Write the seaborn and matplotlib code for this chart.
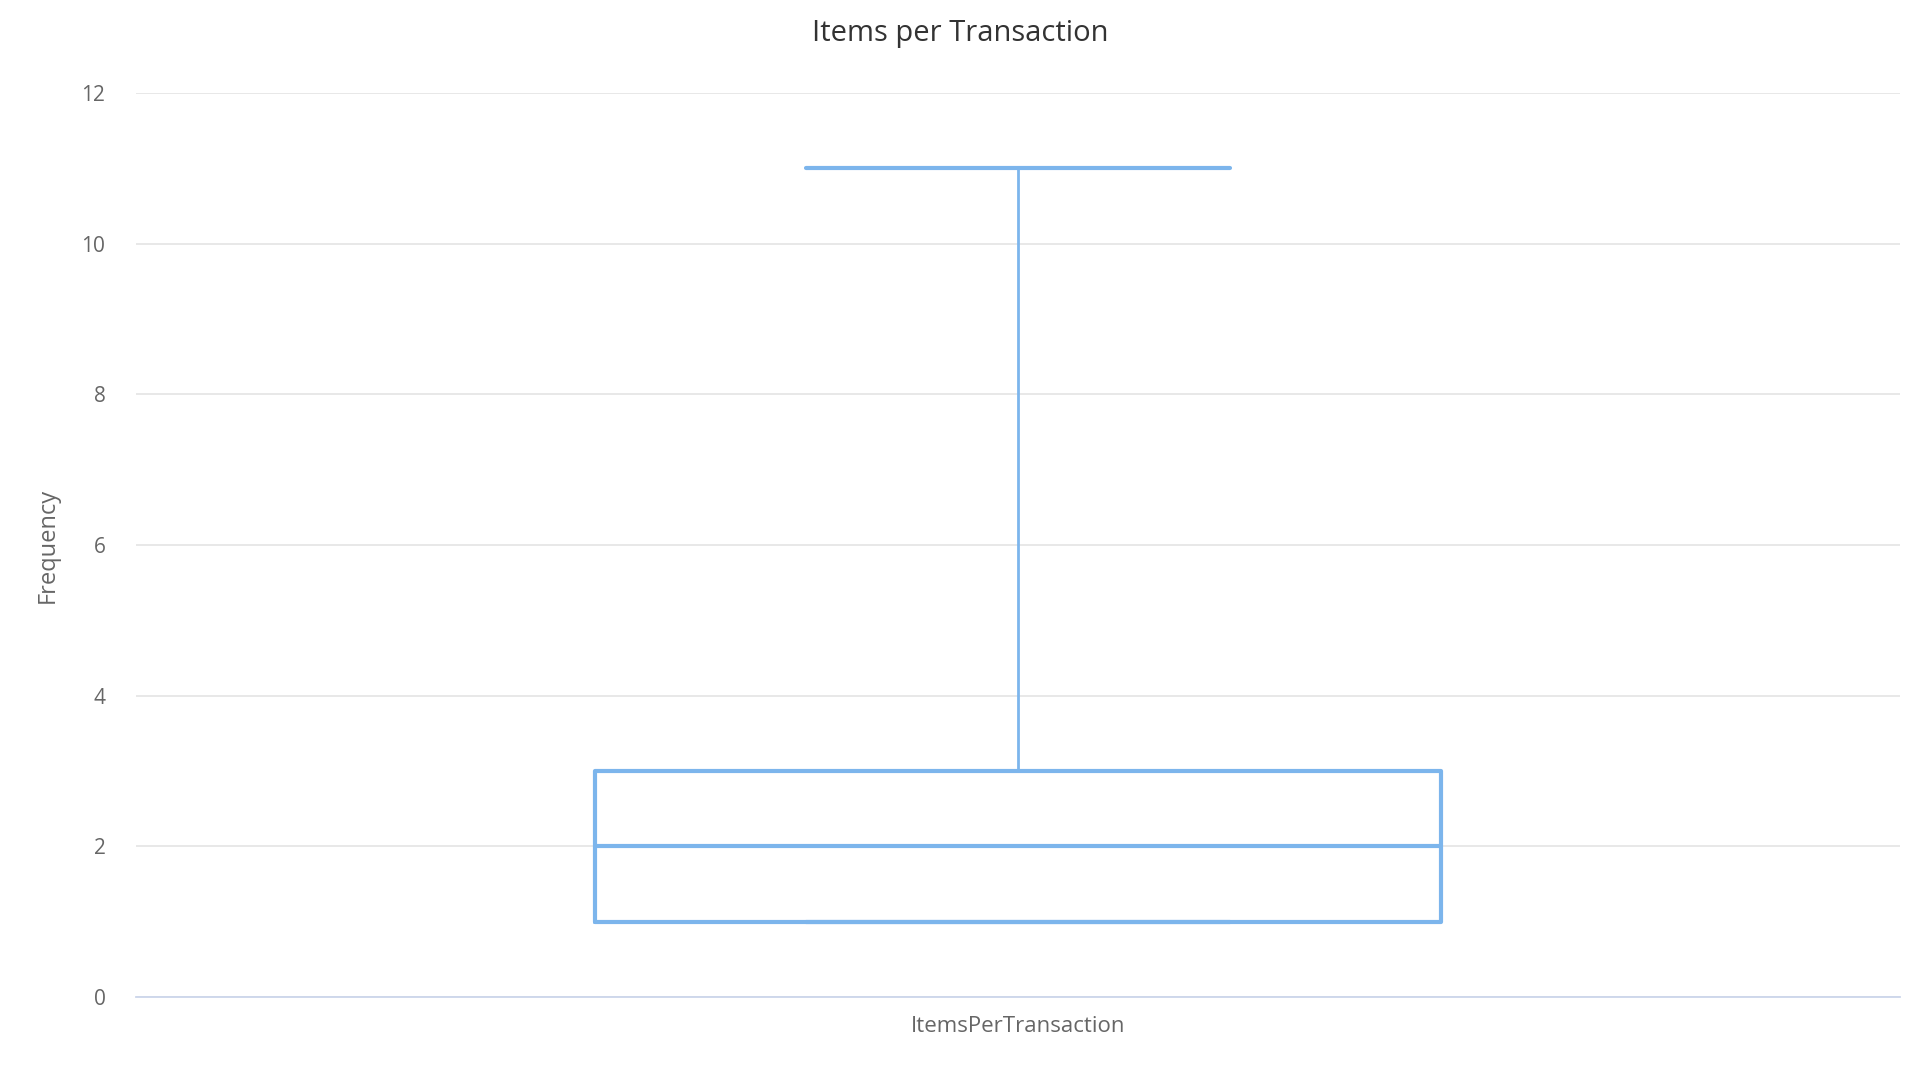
import seaborn as sns
import numpy as np
from matplotlib import pyplot as plt
import pandas as pd

# five-number summary: min, q1, median, q3, max
category = 'ItemsPerTransaction'
summary = [1, 1, 2, 3, 11]
y_ticks = [0, 2, 4, 6, 8, 10, 12]

box_color = '#7cb5ec'
grid_color = '#e6e6e6'
text_color = '#666666'

sns.set_theme(style="whitegrid")
plt.rcParams['font.family'] = ['Open Sans', 'DejaVu Sans']

df = pd.DataFrame({'variable': category, 'value': summary})

fig = plt.figure(figsize=(19.2, 10.8), dpi=100)
ax = fig.add_axes([0.0708, 0.0769, 0.9188, 0.837])

# with five points, numpy percentiles land exactly on the summary values
sns.boxplot(
    data=df, x='variable', y='value', ax=ax,
    whis=(0, 100), width=0.48, fill=False, color=box_color,
    linewidth=3,
    boxprops=dict(linewidth=3),
    medianprops=dict(linewidth=3, color=box_color),
    whiskerprops=dict(linewidth=2),
    capprops=dict(linewidth=3),
)

ax.set_xlim(-0.5, 0.5)
ax.set_ylim(0, 12)
ax.set_yticks(y_ticks)
ax.yaxis.grid(True, color=grid_color, linewidth=1.3)
ax.xaxis.grid(False)
ax.set_axisbelow(True)
ax.set_facecolor('white')
for side in ['left', 'right', 'top']:
    ax.spines[side].set_visible(False)
ax.spines['bottom'].set_color('#ccd6eb')
ax.spines['bottom'].set_linewidth(1.3)
ax.tick_params(axis='both', length=0, labelcolor=text_color)
ax.tick_params(axis='y', pad=22, labelsize=15)
ax.tick_params(axis='x', pad=14, labelsize=16)

ax.set_xlabel('')
ax.set_ylabel('Frequency', fontsize=17, color=text_color, labelpad=16)
fig.suptitle('Items per Transaction', fontsize=21, color='#333333',
             x=0.5, y=0.969, va='center')

fig.savefig('out.png', dpi=100, facecolor='white')
